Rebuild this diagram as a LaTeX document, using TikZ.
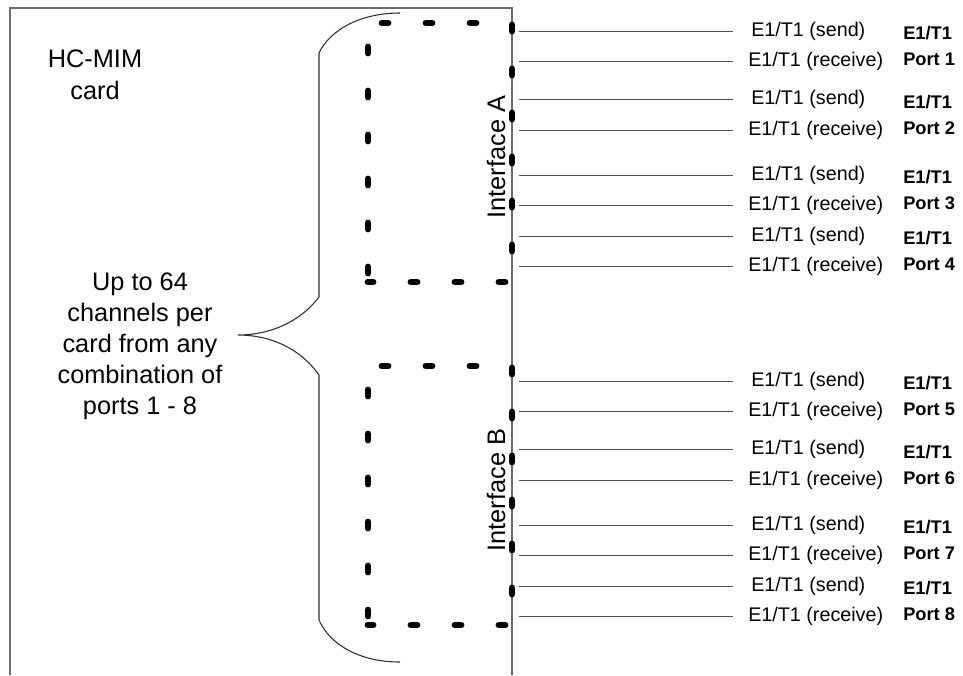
\documentclass[tikz,border=0pt]{standalone}
\usepackage{fontspec}
\setmainfont{Liberation Sans}
\usetikzlibrary{positioning, calc}
\definecolor{CardGray}{HTML}{6A6A6A}
\definecolor{LineGray}{HTML}{505050}
\definecolor{BraceGray}{HTML}{303030}
\tikzset{
   frameline/.style={CardGray, line width=0.9pt},
   portline/.style={LineGray, line width=0.75pt},
   bracket/.style={BraceGray, line width=0.8pt},
   ifbox/.style={black, line width=5.2pt, line cap=round,
      dash pattern=on 4.5pt off 28.5pt, dash phase=26.25pt},
   sigtext/.style={anchor=west, inner sep=0pt, font=\fontsize{14.8}{17}\selectfont},
   porttext/.style={anchor=west, inner sep=0pt, align=left,
      font=\fontsize{13.7}{19.5}\selectfont\bfseries},
   bigtext/.style={align=center, inner sep=0pt, font=\fontsize{19}{23.25}\selectfont}
}
\begin{document}
\begin{tikzpicture}[x=0.75pt, y=-0.75pt]
   \useasboundingbox (0,0) rectangle (963,675);
   \coordinate (cardTL) at (10,8);
   \coordinate (cardTR) at (512,8);
   \draw[frameline] (10,675) -- (cardTL) -- (cardTR) -- (512,675);
   \draw[ifbox] (368,282) -- (368,23) -- (512,23) -- (512,282) -- cycle;
   \draw[ifbox] (368,625) -- (368,366) -- (512,366) -- (512,625) -- cycle;
   \foreach \s/\r/\n in {31/61/1, 99/130/2, 175/205/3, 236/266/4,
                         381/411/5, 449/480/6, 525/555/7, 586/616/8} {
      \coordinate (s\n) at (519,\s);
      \coordinate (r\n) at (519,\r);
      \node[sigtext] (send\n) at (751,\s) {E1/T1 (send)};
      \node[sigtext] (recv\n) at (748,\r) {E1/T1 (receive)};
      \node[porttext] (port\n) at (903,{(\s+\r)/2}) {E1/T1\\Port \n};
      \draw[portline] (s\n) -- ([xshift=-13.5pt]send\n.west);
      \draw[portline] (r\n) -- ([xshift=-11.25pt]recv\n.west);
   }
   \coordinate (tip) at (238,335);
   \draw[bracket] (400,13) .. controls (360,13) and (330,30) .. (319,53) -- (319,297)
      .. controls (300,322) and (270,335) .. (tip)
      .. controls (270,335) and (300,348) .. (319,375) -- (319,620)
      .. controls (330,645) and (360,662) .. (400,662);
   \node[bigtext, font=\fontsize{19}{24}\selectfont] (card) at (95,75) {HC-MIM\\card};
   \node[bigtext] (chan) at (140,346)
      {Up to 64\\channels per\\card from any\\combination of\\ports 1 - 8};
   \node[bigtext, rotate=90] (ifA) at (496,157) {Interface A};
   \node[bigtext, rotate=90] (ifB) at (496,490) {Interface B};
\end{tikzpicture}
\end{document}
